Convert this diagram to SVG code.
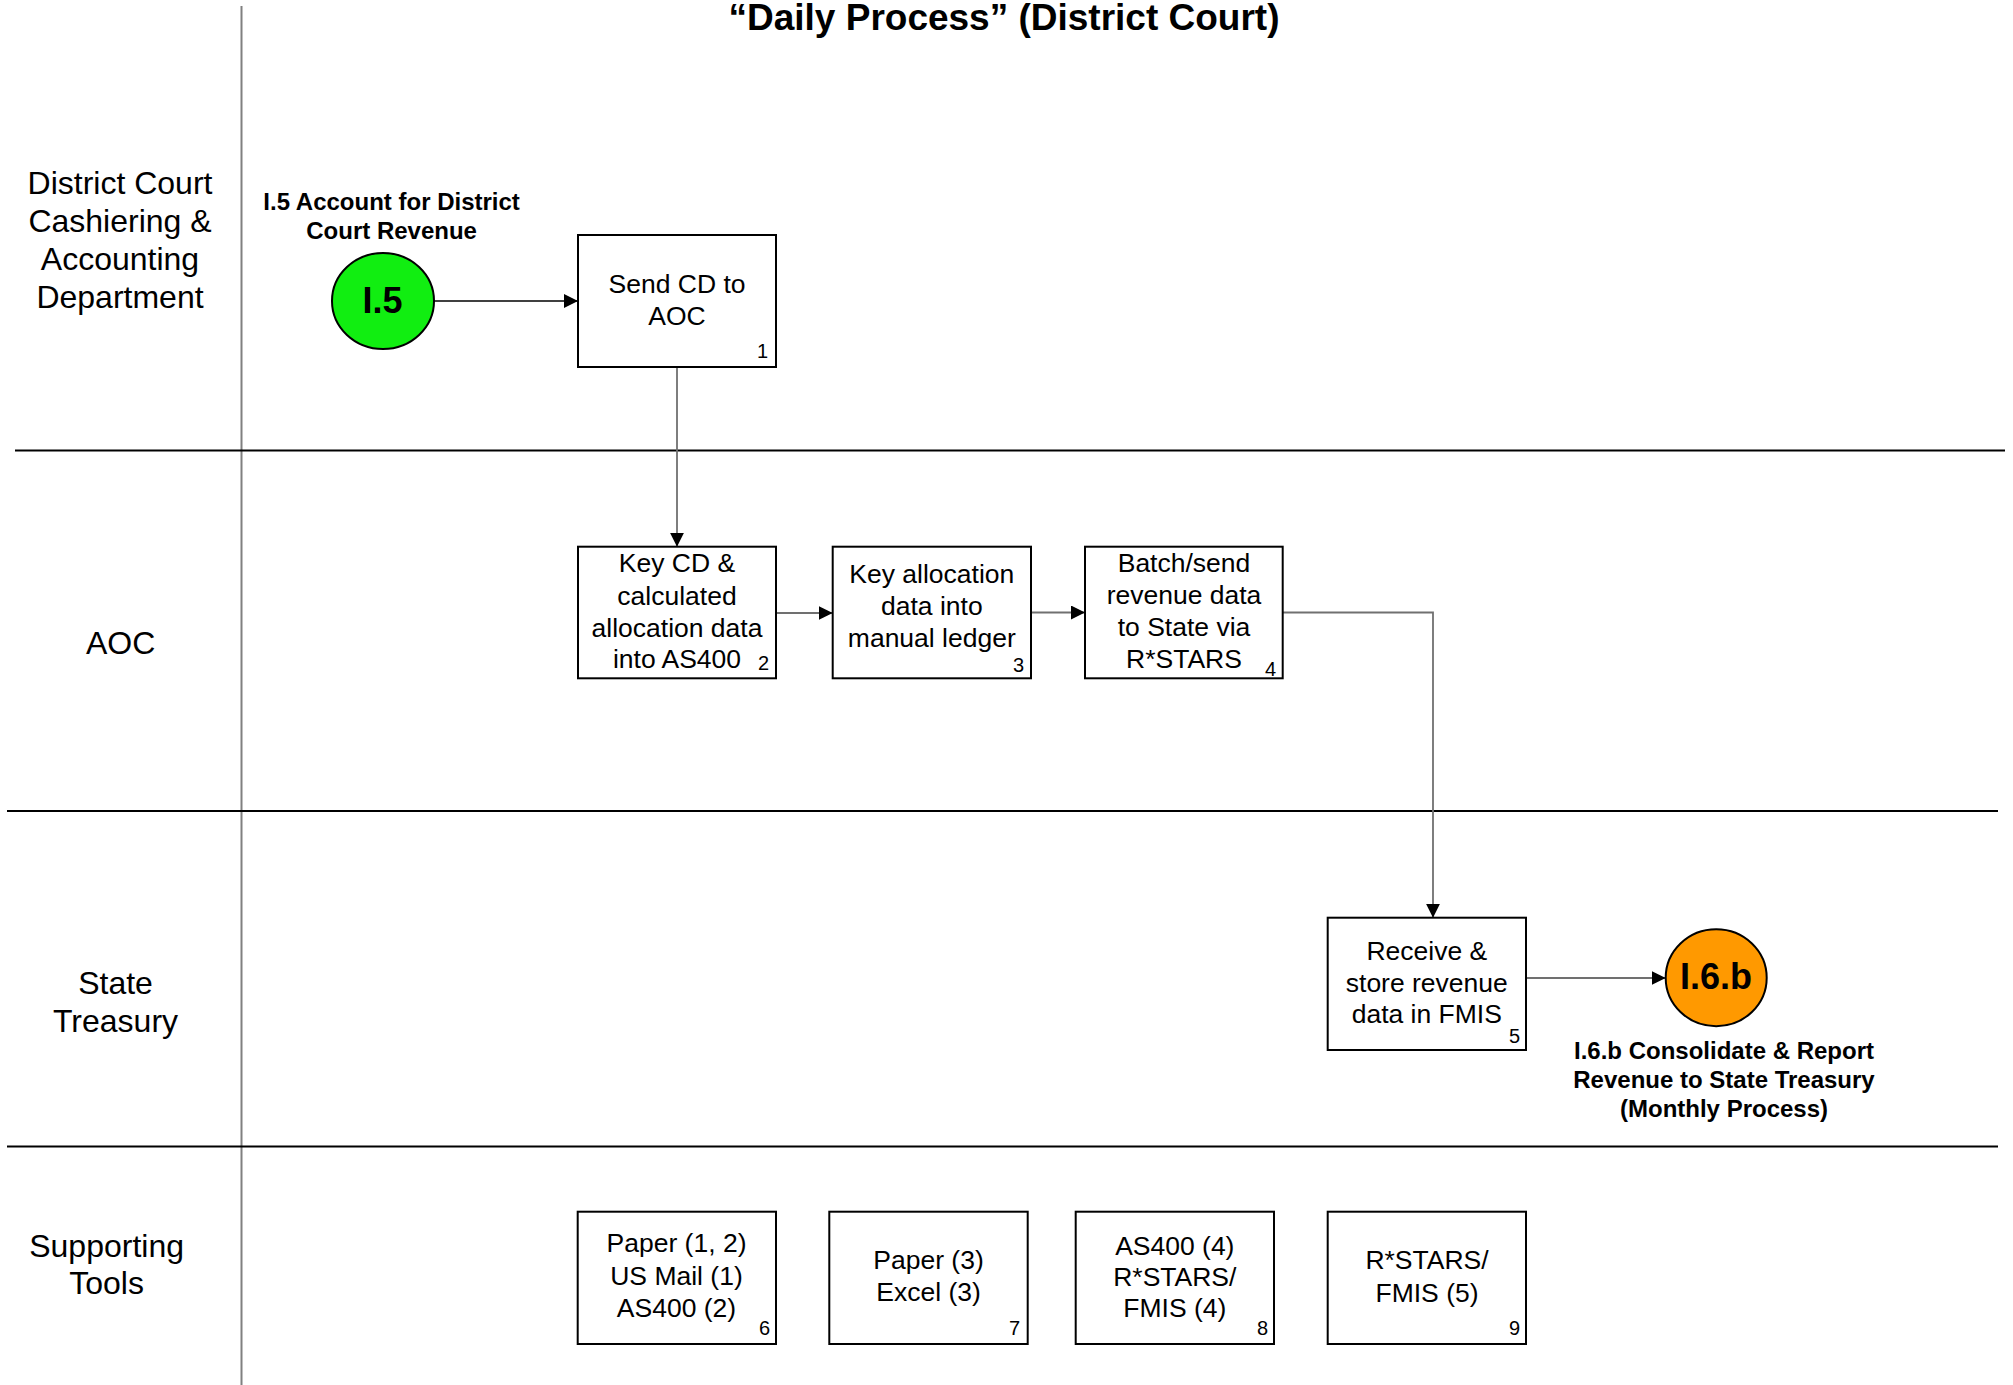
<svg xmlns="http://www.w3.org/2000/svg" width="2013" height="1385" viewBox="0 0 2013 1385">
  <style>
    text { font-family: "Liberation Sans", Arial, sans-serif; fill: #000; }
    .title { font-size: 37px; font-weight: bold; text-anchor: middle; }
    .lane { font-size: 32px; text-anchor: middle; }
    .box { fill: #fff; stroke: #000; stroke-width: 2; }
    .btxt { font-size: 26.5px; text-anchor: middle; }
    .num { font-size: 20px; text-anchor: end; }
    .ref { stroke: #000; stroke-width: 2; }
    .reftxt { font-size: 36px; font-weight: bold; text-anchor: middle; }
    .caption { font-size: 24px; font-weight: bold; text-anchor: middle; }
    .lanesep { stroke: #000; stroke-width: 2; }
    .divider { stroke: #808080; stroke-width: 2; }
    .conn { fill: none; stroke: #707070; stroke-width: 1.8; marker-end: url(#arrow); }
    .conn-dark { fill: none; stroke: #000; stroke-width: 1.5; marker-end: url(#arrow); }
  </style>
  <defs>
    <marker id="arrow" markerUnits="userSpaceOnUse" markerWidth="14" markerHeight="14" refX="14" refY="7" orient="auto">
      <path d="M0,0 L14,7 L0,14 Z" fill="#000"/>
    </marker>
  </defs>

  <rect width="2013" height="1385" fill="#fff"/>

  <text class="title" x="1004" y="30">“Daily Process” (District Court)</text>

  <!-- swimlane frame -->
  <g id="lanes">
    <line class="divider" x1="241.5" y1="6" x2="241.5" y2="1385"/>
    <line class="lanesep" x1="15" y1="450.6" x2="2005" y2="450.6"/>
    <line class="lanesep" x1="7" y1="811" x2="1998" y2="811"/>
    <line class="lanesep" x1="7" y1="1146.4" x2="1998" y2="1146.4"/>
    <text class="lane" x="120" y="194">District Court</text>
    <text class="lane" x="120" y="232">Cashiering &amp;</text>
    <text class="lane" x="120" y="270">Accounting</text>
    <text class="lane" x="120" y="308">Department</text>
    <text class="lane" x="120.7" y="653.5">AOC</text>
    <text class="lane" x="115.5" y="994">State</text>
    <text class="lane" x="115.5" y="1032">Treasury</text>
    <text class="lane" x="106.6" y="1257">Supporting</text>
    <text class="lane" x="106.6" y="1294">Tools</text>
  </g>

  <!-- connectors -->
  <g id="connectors">
    <line class="conn-dark" x1="434" y1="301" x2="578" y2="301"/>
    <line class="conn" x1="677" y1="367" x2="677" y2="546.7"/>
    <line class="conn" x1="776" y1="613" x2="832.7" y2="613"/>
    <line class="conn" x1="1031" y1="612.5" x2="1085" y2="612.5"/>
    <polyline class="conn" points="1282.7,612.5 1433,612.5 1433,917.7"/>
    <line class="conn" x1="1526" y1="978" x2="1665.7" y2="978"/>
  </g>

  <!-- off-page reference: incoming -->
  <g id="ref-I5">
    <text class="caption" x="391.6" y="210">I.5 Account for District</text>
    <text class="caption" x="391.6" y="239">Court Revenue</text>
    <ellipse class="ref" cx="383" cy="301" rx="51" ry="48" fill="#11ee11"/>
    <text class="reftxt" x="382.5" y="313">I.5</text>
  </g>

  <g id="node-1">
    <rect class="box" x="578" y="235" width="198" height="132"/>
    <text class="btxt" x="677" y="293.3">Send CD to</text>
    <text class="btxt" x="677" y="325">AOC</text>
    <text class="num" x="768" y="358">1</text>
  </g>

  <g id="node-2">
    <rect class="box" x="578" y="546.7" width="198" height="131.6"/>
    <text class="btxt" x="677" y="572.3">Key CD &amp;</text>
    <text class="btxt" x="677" y="604.5">calculated</text>
    <text class="btxt" x="677" y="636.5">allocation data</text>
    <text class="btxt" x="677" y="668.3">into AS400</text>
    <text class="num" x="769" y="670">2</text>
  </g>

  <g id="node-3">
    <rect class="box" x="832.7" y="546.7" width="198.3" height="131.6"/>
    <text class="btxt" x="931.8" y="583.3">Key allocation</text>
    <text class="btxt" x="931.8" y="615">data into</text>
    <text class="btxt" x="931.8" y="646.7">manual ledger</text>
    <text class="num" x="1024" y="672">3</text>
  </g>

  <g id="node-4">
    <rect class="box" x="1085" y="546.7" width="197.7" height="131.6"/>
    <text class="btxt" x="1184" y="572.3">Batch/send</text>
    <text class="btxt" x="1184" y="604">revenue data</text>
    <text class="btxt" x="1184" y="636">to State via</text>
    <text class="btxt" x="1184" y="668.3">R*STARS</text>
    <text class="num" x="1276" y="675.5">4</text>
  </g>

  <g id="node-5">
    <rect class="box" x="1327.7" y="917.7" width="198.3" height="132.3"/>
    <text class="btxt" x="1426.8" y="960">Receive &amp;</text>
    <text class="btxt" x="1426.8" y="991.7">store revenue</text>
    <text class="btxt" x="1426.8" y="1023.3">data in FMIS</text>
    <text class="num" x="1520" y="1042.7">5</text>
  </g>

  <!-- off-page reference: outgoing -->
  <g id="ref-I6b">
    <ellipse class="ref" cx="1716.2" cy="977.7" rx="50.5" ry="48.5" fill="#ff9900"/>
    <text class="reftxt" x="1716" y="988.5">I.6.b</text>
    <text class="caption" x="1724" y="1059">I.6.b Consolidate &amp; Report</text>
    <text class="caption" x="1724" y="1088">Revenue to State Treasury</text>
    <text class="caption" x="1724" y="1117">(Monthly Process)</text>
  </g>

  <!-- supporting tools -->
  <g id="tool-6">
    <rect class="box" x="577.7" y="1211.7" width="198.3" height="132.3"/>
    <text class="btxt" x="676.5" y="1252.3">Paper (1, 2)</text>
    <text class="btxt" x="676.5" y="1285">US Mail (1)</text>
    <text class="btxt" x="676.5" y="1316.7">AS400 (2)</text>
    <text class="num" x="770" y="1335">6</text>
  </g>

  <g id="tool-7">
    <rect class="box" x="829.3" y="1211.7" width="198.4" height="132.3"/>
    <text class="btxt" x="928.5" y="1269">Paper (3)</text>
    <text class="btxt" x="928.5" y="1301">Excel (3)</text>
    <text class="num" x="1020" y="1335">7</text>
  </g>

  <g id="tool-8">
    <rect class="box" x="1075.7" y="1211.7" width="198.3" height="132.3"/>
    <text class="btxt" x="1174.8" y="1255">AS400 (4)</text>
    <text class="btxt" x="1174.8" y="1285.7">R*STARS/</text>
    <text class="btxt" x="1174.8" y="1317.3">FMIS (4)</text>
    <text class="num" x="1268" y="1335">8</text>
  </g>

  <g id="tool-9">
    <rect class="box" x="1327.7" y="1211.7" width="198.3" height="132.3"/>
    <text class="btxt" x="1427" y="1269">R*STARS/</text>
    <text class="btxt" x="1427" y="1301.7">FMIS (5)</text>
    <text class="num" x="1520" y="1335">9</text>
  </g>
</svg>
